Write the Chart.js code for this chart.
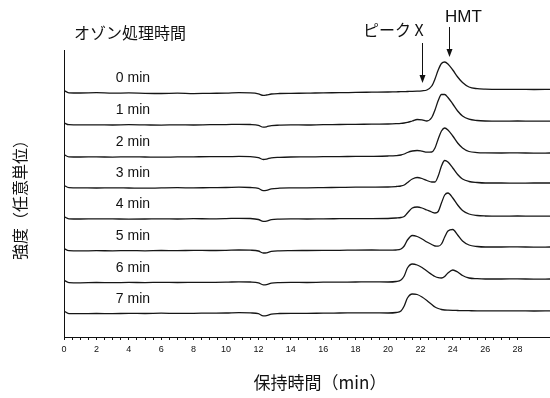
<!DOCTYPE html>
<html><head><meta charset="utf-8">
<script src="https://cdn.jsdelivr.net/npm/chart.js@4/dist/chart.umd.min.js"></script>
<style>html,body{margin:0;padding:0;background:#fff}#wrap{width:550px;height:398px}</style>
</head><body><div id="wrap"><canvas id="c" width="550" height="398"></canvas></div>
<script>
// Retention time (min) sample points
const times = [0, 0.3, 1, 2, 3, 4, 5, 6, 7, 8, 9, 10, 10.8, 11.5, 12.0, 12.3, 12.5, 12.8, 13.3, 14, 15, 16, 17, 18, 19,
  20, 20.5, 20.8, 21.0, 21.2, 21.5, 21.8, 22.1, 22.4, 22.7, 22.9, 23.1, 23.3, 23.5, 23.7, 24.0, 24.3, 24.6, 25.0, 25.5, 26, 27, 28, 29, 30];
// Ozone treatment time labels
const traceLabels = ['0 min', '1 min', '2 min', '3 min', '4 min', '5 min', '6 min', '7 min'];
// Vertical offset of each trace (arbitrary intensity units)
const baselines = [244, 212, 180, 149, 118, 86, 54, 23];
// Signal of each trace above its own baseline
const trace0 = [2.5, 0.2, 0, 0.3, -0.2, 0.1, -0.3, -0.5, -0.2, -0.6, -0.3, -0.2, 0.3, 0.1, -0.8, -2.4, -2.0, -1.0, -0.5, -0.3, -0.2, 0.2, 0.3, 0.6, 0.8,
  1.0, 1.2, 1.3, 1.4, 1.5, 1.6, 1.8, 2.2, 3.0, 7, 14, 23, 29.5, 31, 29, 23, 16, 10.5, 6, 4.3, 3.8, 3.6, 3.7, 3.5, 3.6];
const trace1 = [2.2, 0.3, 0.1, 0.2, 0, 0.3, 0.1, -0.1, 0.2, 0, 0.3, 0.4, 0.7, 0.5, -0.3, -2.2, -1.8, -0.6, -0.2, 0.1, 0, 0.4, 0.5, 0.7, 0.8,
  1.0, 1.3, 1.6, 2.0, 2.6, 4.0, 5.5, 5.2, 4.0, 7.5, 15, 24.5, 30.5, 30.5, 27.5, 21, 14, 9, 5.8, 4.5, 4.0, 3.8, 4.0, 3.8, 3.9];
const trace2 = [2.4, 0.2, 0, 0.1, -0.1, 0.2, 0, -0.2, 0.1, 0.2, 0.3, 0.3, 0.6, 0.4, -0.6, -2.5, -2.1, -0.8, -0.3, 0, 0.1, 0.3, 0.4, 0.6, 0.7,
  1.0, 1.4, 2.0, 3.0, 4.5, 6.0, 6.5, 5.8, 4.8, 5.0, 9, 18, 26, 29, 27, 21, 14, 9, 5.5, 4.4, 4.1, 4.0, 4.1, 3.9, 4.0];
const trace3 = [2.6, 0.3, 0.1, 0, 0.2, 0, -0.2, 0.1, 0.3, 0.1, 0.4, 0.5, 0.8, 0.5, -0.4, -2.6, -2.3, -0.9, -0.2, 0.1, 0.2, 0.4, 0.6, 0.8, 0.9,
  1.0, 1.5, 2.0, 3.0, 5.5, 9.0, 10.5, 9.5, 7.5, 6.0, 6.0, 12, 22, 27.5, 26, 20, 13.5, 9, 6.5, 5.5, 5.0, 5.0, 4.9, 5.0, 5.0];
const trace4 = [2.3, 0.2, 0, 0.2, 0.1, -0.1, 0, 0.2, 0, 0.3, 0.2, 0.4, 0.7, 0.5, -0.5, -2.4, -2.2, -0.7, -0.1, 0.1, 0, 0.2, 0.3, 0.4, 0.4,
  0.5, 1.0, 1.5, 2.5, 6.0, 11.0, 12.0, 11.0, 9.0, 7.0, 6.0, 7.5, 16, 24, 26, 21, 14, 8.5, 5.0, 3.5, 3.0, 2.8, 3.0, 2.8, 2.9];
const trace5 = [2.5, 0.3, 0.1, 0.3, 0.2, 0.4, 0.2, 0.5, 0.4, 0.6, 0.5, 0.7, 1.0, 0.8, 0, -2.0, -1.8, -0.4, 0.2, 0.4, 0.5, 0.6, 0.7, 0.9, 1.0,
  0.8, 1.0, 2.0, 5.0, 11.0, 15.5, 14.5, 12.0, 9.0, 6.5, 5.0, 4.8, 7.0, 14, 20, 21.5, 16, 10, 6.0, 4.5, 4.0, 4.0, 4.1, 3.9, 4.0];
const trace6 = [2.8, 0.4, 0.2, 0.5, 0.3, 0.6, 0.4, 0.7, 0.5, 0.6, 0.7, 0.8, 1.2, 1.0, 0.2, -1.8, -1.6, -0.2, 0.4, 0.6, 0.5, 0.8, 0.9, 1.0, 1.1,
  1.0, 1.5, 3.0, 7.0, 15.0, 19.0, 18.0, 15.5, 12.0, 8.5, 6.5, 5.3, 5.0, 6.5, 10, 13, 11, 7.5, 5.0, 4.3, 4.0, 4.0, 4.1, 3.9, 4.0];
const trace7 = [3.0, 0.4, 0.3, 0.5, 0.4, 0.6, 0.5, 0.8, 0.6, 0.7, 0.9, 1.0, 1.4, 1.1, 0.3, -1.9, -1.7, -0.1, 0.5, 0.7, 0.6, 0.9, 1.0, 1.1, 1.2,
  1.0, 1.5, 3.0, 8.0, 16.0, 20.0, 19.5, 17.0, 13.5, 9.5, 7.0, 5.5, 4.5, 4.0, 3.8, 3.6, 3.5, 3.4, 3.3, 3.2, 3.2, 3.1, 3.2, 3.0, 3.1];
const traces = [trace0, trace1, trace2, trace3, trace4, trace5, trace6, trace7];
// Axis tick labels
const xTickLabels = [0, 2, 4, 6, 8, 10, 12, 14, 16, 18, 20, 22, 24, 26, 28];
const groupTitle = 'オゾン処理時間';
const xTitle = '保持時間（min）';
const yTitle = '強度（任意単位）';
const peakXLabel = 'ピーク X';
const hmtLabel = 'HMT';
const peakXTime = 22.1;
const hmtTime = 23.75;

const datasets = traces.map((tr, k) => ({
  label: traceLabels[k],
  data: times.map((t, i) => ({x: t, y: baselines[k] + tr[i]})),
  borderColor: '#161616',
  borderWidth: 1.3,
  pointRadius: 0,
  fill: false,
  cubicInterpolationMode: 'monotone'
}));

function arrow(ctx, x, y0, y1) {
  ctx.beginPath();
  ctx.moveTo(x, y0);
  ctx.lineTo(x, y1 - 6);
  ctx.stroke();
  ctx.beginPath();
  ctx.moveTo(x - 3, y1 - 8);
  ctx.lineTo(x + 3, y1 - 8);
  ctx.lineTo(x, y1);
  ctx.closePath();
  ctx.fill();
}

const annot = {
  id: 'annot',
  afterDraw(chart) {
    const {ctx, scales: {x, y}} = chart;
    ctx.save();
    ctx.fillStyle = '#111';
    ctx.strokeStyle = '#111';
    ctx.lineWidth = 1;
    ctx.textBaseline = 'middle';
    ctx.textAlign = 'left';
    ctx.font = '16px "Noto Sans CJK JP"';
    ctx.fillText(groupTitle, 74, 33);
    ctx.font = '14px "Liberation Sans", Arial, sans-serif';
    traceLabels.forEach((lab, k) => {
      ctx.fillText(lab, x.getPixelForValue(3.2), y.getPixelForValue(baselines[k] + 15));
    });
    ctx.font = '16px "Noto Sans CJK JP"';
    ctx.fillText(peakXLabel, 363, 30);
    ctx.font = '17px "Liberation Sans", Arial, sans-serif';
    ctx.fillText(hmtLabel, 445, 17);
    arrow(ctx, Math.round(x.getPixelForValue(peakXTime)) + 0.5, 43, 83);
    arrow(ctx, Math.round(x.getPixelForValue(hmtTime)) + 0.5, 27, 57);
    ctx.textAlign = 'center';
    ctx.font = '17px "Noto Sans CJK JP"';
    ctx.fillText(xTitle, 320, 383);
    ctx.translate(20, 196);
    ctx.rotate(-Math.PI / 2);
    ctx.font = '16px "Noto Sans CJK JP"';
    ctx.fillText(yTitle, 0, 0);
    ctx.restore();
  }
};

new Chart(document.getElementById('c'), {
  type: 'line',
  data: {datasets},
  options: {
    responsive: false,
    animation: false,
    devicePixelRatio: 1,
    layout: {padding: {top: 50, left: 0, right: 0, bottom: 0}},
    plugins: {legend: {display: false}, tooltip: {enabled: false}},
    scales: {
      x: {
        type: 'linear', min: 0, max: 30,
        afterBuildTicks: (axis) => { axis.ticks = axis.ticks.filter(t => t.value <= 28); },
        afterFit: (s) => { s.height = 61; },
        ticks: {
          stepSize: 0.5, autoSkip: false, maxTicksLimit: 100, maxRotation: 0, padding: 4,
          color: '#111', font: {size: 9, family: '"Liberation Sans", Arial, sans-serif'},
          callback: (v) => xTickLabels.includes(v) ? String(v) : ''
        },
        grid: {drawOnChartArea: false, drawTicks: true, tickLength: 3, color: '#111', lineWidth: 1},
        border: {display: true, color: '#111', width: 1}
      },
      y: {
        min: 0, max: 287,
        afterFit: (s) => { s.width = 64; },
        ticks: {display: false},
        grid: {display: false},
        border: {display: true, color: '#111', width: 1}
      }
    }
  },
  plugins: [annot]
});
</script></body></html>
